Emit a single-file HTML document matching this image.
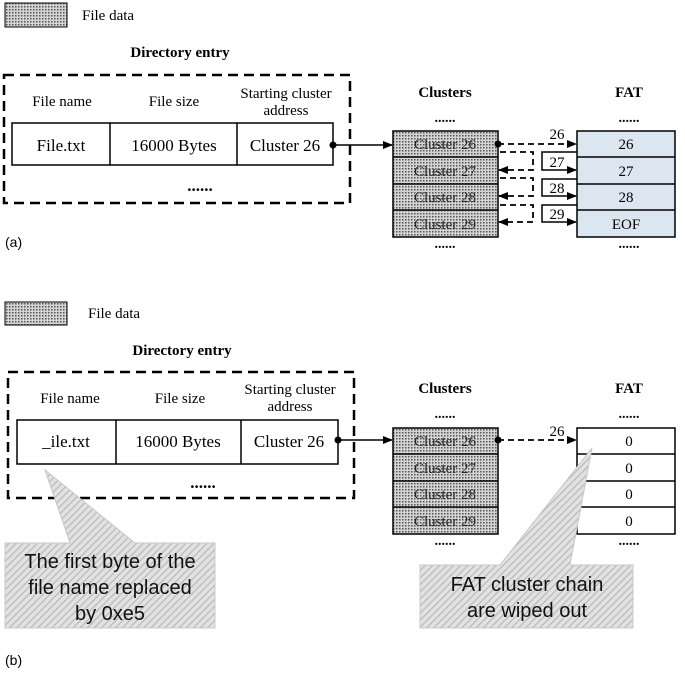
<!DOCTYPE html>
<html><head><meta charset="utf-8"><style>body{margin:0;background:#fff}svg{display:block}</style></head><body>
<svg width="685" height="674" viewBox="0 0 685 674" xmlns="http://www.w3.org/2000/svg" font-family="Liberation Serif, serif">
<defs>
<pattern id="dot" width="3" height="3" patternUnits="userSpaceOnUse"><rect width="3" height="3" fill="#d4d4d4"/><rect width="1.5" height="1.5" fill="#555"/></pattern>
<pattern id="hat" width="5" height="5" patternUnits="userSpaceOnUse" patternTransform="rotate(45)"><rect width="5" height="5" fill="#e2e2e2"/><rect width="1.2" height="5" fill="#b8b8b8"/></pattern>
<marker id="ar" markerWidth="10" markerHeight="8" refX="9" refY="4" orient="auto" markerUnits="userSpaceOnUse"><path d="M0,0 L10,4 L0,8z" fill="#000"/></marker>
</defs>
<g stroke="#000" fill="none">
<rect x="5" y="3" width="62" height="24" fill="url(#dot)" stroke-width="1"/>
<rect x="4" y="75" width="346" height="128" stroke-width="2.5" stroke-dasharray="10,6"/>
<rect x="12" y="123" width="321" height="42" fill="#fff" stroke-width="1.5"/>
<line x1="110" y1="123" x2="110" y2="165" stroke-width="1.5"/><line x1="237" y1="123" x2="237" y2="165" stroke-width="1.5"/>
<rect x="393" y="131" width="105" height="106" fill="url(#dot)" stroke-width="1.5"/>
<line x1="393" y1="157" x2="498" y2="157" stroke-width="1.5"/><line x1="393" y1="184" x2="498" y2="184" stroke-width="1.5"/><line x1="393" y1="210" x2="498" y2="210" stroke-width="1.5"/>
<rect x="577" y="131" width="98" height="106" fill="#dce6f1" stroke-width="1.5"/>
<line x1="577" y1="157" x2="675" y2="157" stroke-width="1.5"/><line x1="577" y1="184" x2="675" y2="184" stroke-width="1.5"/><line x1="577" y1="210" x2="675" y2="210" stroke-width="1.5"/>
<line x1="333" y1="145" x2="392" y2="145" stroke-width="1.5" marker-end="url(#ar)"/>
<line x1="498" y1="144" x2="576" y2="144" stroke-width="1.8" stroke-dasharray="6,4" marker-end="url(#ar)"/>
<path d="M577,152 H542 V170 H576" stroke-width="1.5" marker-end="url(#ar)"/>
<path d="M577,179 H542 V196 H576" stroke-width="1.5" marker-end="url(#ar)"/>
<path d="M577,205 H542 V222 H576" stroke-width="1.5" marker-end="url(#ar)"/>
<path d="M500,152 H533 V170 H499" stroke-width="1.8" stroke-dasharray="6,4" marker-end="url(#ar)"/>
<path d="M500,178 H533 V196 H499" stroke-width="1.8" stroke-dasharray="6,4" marker-end="url(#ar)"/>
<path d="M500,205 H533 V222 H499" stroke-width="1.8" stroke-dasharray="6,4" marker-end="url(#ar)"/>
<rect x="5" y="302" width="62" height="23" fill="url(#dot)" stroke-width="1"/>
<rect x="8" y="372" width="346" height="126" stroke-width="2.5" stroke-dasharray="10,6"/>
<rect x="17" y="420" width="321" height="44" fill="#fff" stroke-width="1.5"/>
<line x1="116" y1="420" x2="116" y2="464" stroke-width="1.5"/><line x1="241" y1="420" x2="241" y2="464" stroke-width="1.5"/>
<rect x="393" y="428" width="105" height="106" fill="url(#dot)" stroke-width="1.5"/>
<line x1="393" y1="454" x2="498" y2="454" stroke-width="1.5"/><line x1="393" y1="481" x2="498" y2="481" stroke-width="1.5"/><line x1="393" y1="507" x2="498" y2="507" stroke-width="1.5"/>
<rect x="577" y="428" width="98" height="106" fill="#fff" stroke-width="1.5"/>
<line x1="577" y1="454" x2="675" y2="454" stroke-width="1.5"/><line x1="577" y1="481" x2="675" y2="481" stroke-width="1.5"/><line x1="577" y1="507" x2="675" y2="507" stroke-width="1.5"/>
<line x1="338" y1="440" x2="392" y2="440" stroke-width="1.5" marker-end="url(#ar)"/>
<line x1="498" y1="440" x2="576" y2="440" stroke-width="1.8" stroke-dasharray="6,4" marker-end="url(#ar)"/>
<path d="M5,543 H70 L45,470 L135,543 H215 V628 H5 Z" fill="url(#hat)" stroke="#c8c8c8" stroke-width="1"/>
<path d="M420,565 H500 L592,448 L570,565 H633 V628 H420 Z" fill="url(#hat)" stroke="#c8c8c8" stroke-width="1"/>
</g>
<g fill="#000" stroke="none">
<circle cx="333" cy="145" r="3.5"/><circle cx="498" cy="144" r="3.5"/>
<circle cx="338" cy="440" r="3.5"/><circle cx="498" cy="440" r="3.5"/>
</g>
<g font-size="15" text-anchor="middle" fill="#000">
<text x="82" y="20" text-anchor="start">File data</text>
<text x="180" y="57" font-weight="bold">Directory entry</text>
<text x="62" y="106">File name</text><text x="174" y="106">File size</text>
<text x="286" y="98">Starting cluster</text><text x="286" y="115">address</text>
<text x="61" y="151" font-size="17">File.txt</text><text x="174" y="151" font-size="17">16000 Bytes</text><text x="285" y="151" font-size="17">Cluster 26</text>
<text x="200" y="191" font-weight="bold" font-size="17">......</text>
<text x="445" y="97" font-weight="bold">Clusters</text><text x="445" y="122" font-weight="bold" font-size="14">......</text>
<text x="445" y="149" fill="#222">Cluster 26</text><text x="445" y="176" fill="#222">Cluster 27</text><text x="445" y="202" fill="#222">Cluster 28</text><text x="445" y="229" fill="#222">Cluster 29</text>
<text x="445" y="248" font-weight="bold" font-size="14">......</text>
<text x="629" y="97" font-weight="bold">FAT</text><text x="629" y="122" font-weight="bold" font-size="14">......</text>
<text x="626" y="149">26</text><text x="626" y="176">27</text><text x="626" y="202">28</text><text x="626" y="229">EOF</text>
<text x="629" y="248" font-weight="bold" font-size="14">......</text>
<text x="557" y="139">26</text><text x="557" y="167">27</text><text x="557" y="193">28</text><text x="557" y="219">29</text>
<text x="5" y="247" text-anchor="start" font-family="Liberation Sans, sans-serif" font-size="14">(a)</text>
<text x="88" y="318" text-anchor="start">File data</text>
<text x="182" y="355" font-weight="bold">Directory entry</text>
<text x="70" y="403">File name</text><text x="180" y="403">File size</text>
<text x="290" y="394">Starting cluster</text><text x="290" y="411">address</text>
<text x="66" y="447" font-size="17">_ile.txt</text><text x="178" y="447" font-size="17">16000 Bytes</text><text x="289" y="447" font-size="17">Cluster 26</text>
<text x="203" y="488" font-weight="bold" font-size="17">......</text>
<text x="445" y="393" font-weight="bold">Clusters</text><text x="445" y="418" font-weight="bold" font-size="14">......</text>
<text x="445" y="446" fill="#222">Cluster 26</text><text x="445" y="473" fill="#222">Cluster 27</text><text x="445" y="499" fill="#222">Cluster 28</text><text x="445" y="526" fill="#222">Cluster 29</text>
<text x="445" y="545" font-weight="bold" font-size="14">......</text>
<text x="629" y="393" font-weight="bold">FAT</text><text x="629" y="418" font-weight="bold" font-size="14">......</text>
<text x="629" y="446">0</text><text x="629" y="473">0</text><text x="629" y="499">0</text><text x="629" y="526">0</text>
<text x="629" y="545" font-weight="bold" font-size="14">......</text>
<text x="557" y="436">26</text>
<g font-family="Liberation Sans, sans-serif" font-size="20" fill="#111">
<text x="110" y="568">The first byte of the</text><text x="110" y="594">file name replaced</text><text x="110" y="620">by 0xe5</text>
<text x="527" y="591">FAT cluster chain</text><text x="527" y="617">are wiped out</text>
</g>
<text x="5" y="665" text-anchor="start" font-family="Liberation Sans, sans-serif" font-size="14">(b)</text>
</g>
</svg>
</body></html>
